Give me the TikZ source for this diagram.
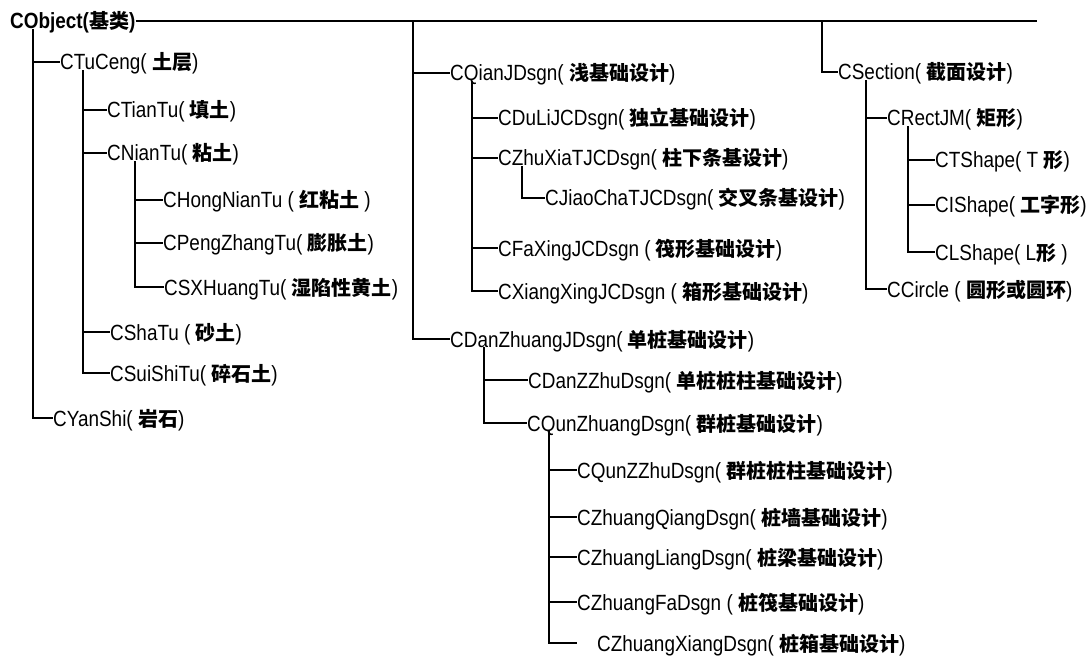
\documentclass[tikz,border=0pt]{standalone}
\usepackage{fontspec}
\setmainfont{Liberation Sans}[FakeStretch=0.86]
\newfontfamily\cjk{Noto Sans CJK SC}
\newcommand\zh[1]{{\cjk\bfseries\fontsize{20}{20}\selectfont #1}}
\tikzset{
  cls/.style={anchor=west, inner sep=0pt, text height=16pt, text depth=0pt,
              font=\fontsize{22}{22}\selectfont},
  link/.style={draw=black, line width=1.8pt, line join=miter},
}
\begin{document}
\begin{tikzpicture}[x=1pt,y=-1pt]
\useasboundingbox (0,0) rectangle (1087,663);

% root
\node[cls, font=\fontsize{22}{22}\selectfont\bfseries] (obj) at (10,21) {CObject(\zh{基类})};
\coordinate (topend) at (1037,21);
\coordinate (b2) at (413,21);
\coordinate (b3) at (822,21);

% soil / rock branch
\node[cls] (tuceng)   at (60,62)   {CTuCeng( \zh{土层})};
\node[cls] (tiantu)   at (107,110) {CTianTu( \zh{填土})};
\node[cls] (niantu)   at (107,153) {CNianTu( \zh{粘土})};
\node[cls] (hong)     at (163,200) {CHongNianTu ( \zh{红粘土} )};
\node[cls] (peng)     at (163,243) {CPengZhangTu( \zh{膨胀土})};
\node[cls] (sxh)      at (164,287) {CSXHuangTu( \zh{湿陷性黄土})};
\node[cls] (shatu)    at (110,332) {CShaTu ( \zh{砂土})};
\node[cls] (suishi)   at (110,373) {CSuiShiTu( \zh{碎石土})};
\node[cls] (yanshi)   at (53,418)  {CYanShi( \zh{岩石})};

% shallow foundations
\node[cls] (qian)     at (450,73)  {CQianJDsgn( \zh{浅基础设计})};
\node[cls] (duli)     at (498,118) {CDuLiJCDsgn( \zh{独立基础设计})};
\node[cls] (zhuxia)   at (498,158) {CZhuXiaTJCDsgn( \zh{柱下条基设计})};
\node[cls] (jiaocha)  at (545,198) {CJiaoChaTJCDsgn( \zh{交叉条基设计})};
\node[cls] (faxing)   at (498,248) {CFaXingJCDsgn ( \zh{筏形基础设计})};
\node[cls] (xiangx)   at (498,291) {CXiangXingJCDsgn ( \zh{箱形基础设计})};

% pile foundations
\node[cls] (dan)      at (450,339) {CDanZhuangJDsgn( \zh{单桩基础设计})};
\node[cls] (danzz)    at (528,380) {CDanZZhuDsgn( \zh{单桩桩柱基础设计})};
\node[cls] (qun)      at (527,423) {CQunZhuangDsgn( \zh{群桩基础设计})};
\node[cls] (qunzz)    at (577,470) {CQunZZhuDsgn( \zh{群桩桩柱基础设计})};
\node[cls] (zqiang)   at (577,517) {CZhuangQiangDsgn( \zh{桩墙基础设计})};
\node[cls] (zliang)   at (577,557) {CZhuangLiangDsgn( \zh{桩梁基础设计})};
\node[cls] (zfa)      at (577,602) {CZhuangFaDsgn ( \zh{桩筏基础设计})};
\node[cls] (zxiang)   at (597,643) {CZhuangXiangDsgn( \zh{桩箱基础设计})};

% sections
\node[cls] (sect)     at (838,72)  {CSection( \zh{截面设计})};
\node[cls] (rect)     at (887,118) {CRectJM( \zh{矩形})};
\node[cls] (tsh)      at (935,160) {CTShape( T \zh{形})};
\node[cls] (ish)      at (935,205) {CIShape( \zh{工字形})};
\node[cls] (lsh)      at (935,252) {CLShape( L\zh{形} )};
\node[cls] (circ)     at (887,289) {CCircle ( \zh{圆形或圆环})};

% top rail and its drops
\draw[link] (obj.east) -- (topend);
\draw[link] (b2) |- (qian.west);
\draw[link] (b2) |- (dan.west);
\draw[link] (b3) |- (sect.west);

% CObject children
\foreach \c in {tuceng,yanshi}
  \draw[link] ([xshift=23pt]obj.south west) |- (\c.west);
\foreach \c in {tiantu,niantu,shatu,suishi}
  \draw[link] ([xshift=23pt]tuceng.south west) |- (\c.west);
\foreach \c in {hong,peng,sxh}
  \draw[link] ([xshift=28pt]niantu.south west) |- (\c.west);

% shallow foundation children
\foreach \c in {duli,zhuxia,faxing,xiangx}
  \draw[link] ([xshift=22pt]qian.south west) |- (\c.west);
\draw[link] ([xshift=24pt]zhuxia.south west) |- (jiaocha.west);

% pile foundation children
\foreach \c in {danzz,qun}
  \draw[link] ([xshift=34pt]dan.south west) |- (\c.west);
\foreach \c in {qunzz,zqiang,zliang,zfa}
  \draw[link] ([xshift=22pt]qun.south west) |- (\c.west);
\draw[link] ([xshift=22pt]qun.south west) |- ([xshift=-20pt]zxiang.west);

% section children
\foreach \c in {rect,circ}
  \draw[link] ([xshift=28pt]sect.south west) |- (\c.west);
\foreach \c in {tsh,ish,lsh}
  \draw[link] ([xshift=21pt]rect.south west) |- (\c.west);
\end{tikzpicture}
\end{document}
